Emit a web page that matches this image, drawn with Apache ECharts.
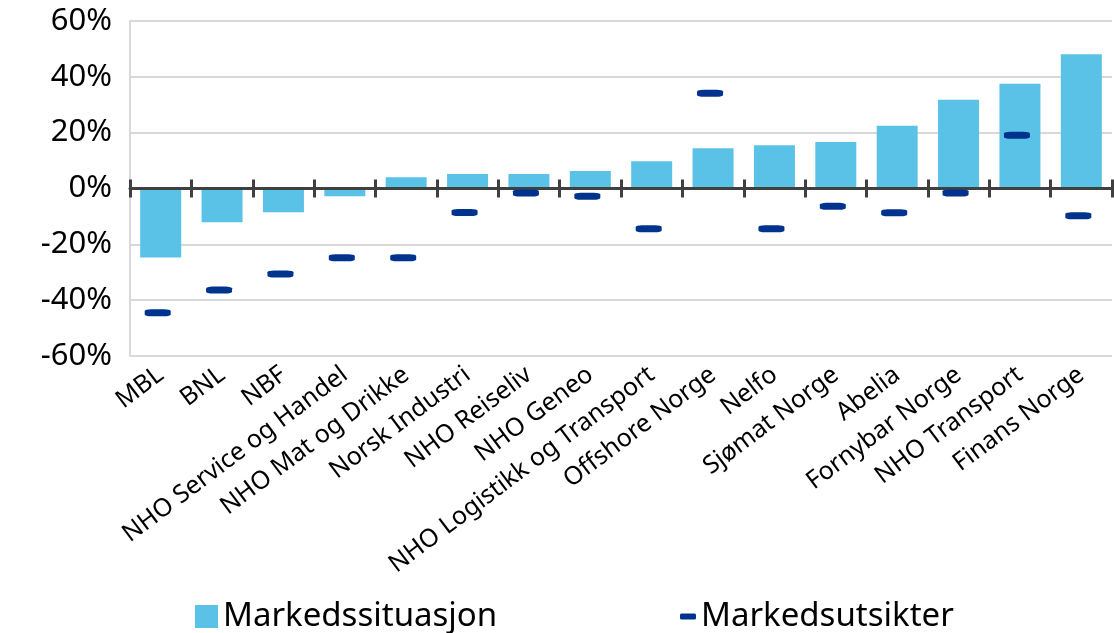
<!DOCTYPE html>
<html>
<head>
<meta charset="utf-8">
<script src="https://cdn.jsdelivr.net/npm/echarts@6/dist/echarts.min.js"></script>
<style>
html,body{margin:0;padding:0;background:#fff;}
#chart{width:1114px;height:633px;}
</style>
</head>
<body>
<div id="chart"></div>
<script>
var categories = ['MBL','BNL','NBF','NHO Service og Handel','NHO Mat og Drikke','Norsk Industri','NHO Reiseliv','NHO Geneo','NHO Logistikk og Transport','Offshore Norge','Nelfo','Sjømat Norge','Abelia','Fornybar Norge','NHO Transport','Finans Norge'];
var markedssituasjon = [-24.7, -12.1, -8.5, -2.8, 4.0, 5.2, 5.2, 6.3, 9.8, 14.4, 15.5, 16.7, 22.5, 31.8, 37.5, 48.1];
var markedsutsikter = [-44.5, -36.4, -30.6, -24.8, -24.8, -8.6, -1.6, -2.8, -14.4, 34.1, -14.4, -6.4, -8.7, -1.6, 19.1, -9.8];
var yTicks = {min: -60, max: 60, interval: 20};

var FONT = 'Noto Sans';
var chart = echarts.init(document.getElementById('chart'), null, {renderer: 'canvas'});
chart.setOption({
  animation: false,
  textStyle: {fontFamily: FONT},
  grid: {left: 130, right: 2, top: 21, bottom: 277, containLabel: false},
  legend: [
    {data: [{name: 'Markedssituasjon', icon: 'rect'}], left: 190, top: 595, itemWidth: 23, itemHeight: 23, itemGap: 10,
     textStyle: {fontSize: 33, color: '#000', fontFamily: FONT}},
    {data: [{name: 'Markedsutsikter', icon: 'roundRect'}], left: 675, top: 595, itemWidth: 16, itemHeight: 6, itemGap: 14,
     textStyle: {fontSize: 33, color: '#000', fontFamily: FONT}}
  ],
  xAxis: [
    {type: 'category', data: categories, position: 'bottom',
     axisLine: {show: false, onZero: false}, axisTick: {show: false},
     axisLabel: {rotate: 37, fontSize: 25, color: '#000', margin: 16, interval: 0, fontFamily: FONT},
     splitLine: {show: false}},
    {type: 'category', data: categories, position: 'bottom',
     axisLine: {show: true, onZero: true, onZeroAxisIndex: 0, lineStyle: {color: '#404040', width: 3}},
     axisTick: {show: true, interval: 0, inside: false, length: 9, lineStyle: {color: '#404040', width: 3}},
     axisLabel: {show: true, interval: 0, color: 'rgba(0,0,0,0)', fontSize: 1}, splitLine: {show: false}, z: 5},
    {type: 'category', data: categories, position: 'bottom',
     axisLine: {show: false, onZero: true, onZeroAxisIndex: 0},
     axisTick: {show: true, interval: 0, inside: true, length: 9, lineStyle: {color: '#404040', width: 3}},
     axisLabel: {show: true, interval: 0, color: 'rgba(0,0,0,0)', fontSize: 1}, splitLine: {show: false}, z: 5}
  ],
  yAxis: {
    type: 'value', min: yTicks.min, max: yTicks.max, interval: yTicks.interval,
    axisLine: {show: true, lineStyle: {color: '#d9d9d9', width: 2}},
    axisTick: {show: false},
    splitLine: {show: true, lineStyle: {color: '#d9d9d9', width: 2}},
    axisLabel: {formatter: '{value}%', fontSize: 31, color: '#000', margin: 18, fontFamily: FONT}
  },
  series: [
    {name: 'Markedssituasjon', type: 'bar', xAxisIndex: 0, data: markedssituasjon, barWidth: 41,
     itemStyle: {color: '#5BC2E7'}, z: 2},
    {name: 'Markedsutsikter', type: 'scatter', xAxisIndex: 0, data: markedsutsikter,
     symbol: 'roundRect', symbolSize: [26, 7], symbolOffset: [-3, 0], itemStyle: {color: '#00338D', opacity: 1}, z: 6}
  ]
});
</script>
</body>
</html>
